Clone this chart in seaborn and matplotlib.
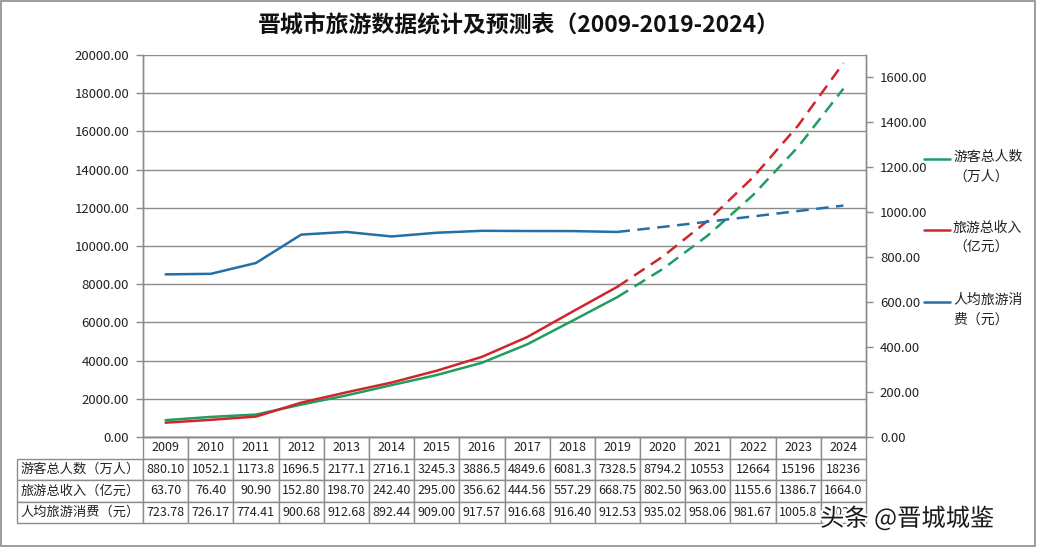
import matplotlib
matplotlib.use('Agg')
import matplotlib.pyplot as plt
import matplotlib.patheffects as pe
from matplotlib.lines import Line2D
from matplotlib.patches import Rectangle
from matplotlib.ticker import FormatStrFormatter, MultipleLocator
import seaborn as sns

# ---- data ----
years = [2009, 2010, 2011, 2012, 2013, 2014, 2015, 2016,
         2017, 2018, 2019, 2020, 2021, 2022, 2023, 2024]
visitors = [880.10, 1052.1, 1173.8, 1696.5, 2177.1, 2716.1, 3245.3, 3886.5,
            4849.6, 6081.3, 7328.5, 8794.2, 10553, 12664, 15196, 18236]
income = [63.70, 76.40, 90.90, 152.80, 198.70, 242.40, 295.00, 356.62,
          444.56, 557.29, 668.75, 802.50, 963.00, 1155.6, 1386.7, 1664.0]
per_capita = [723.78, 726.17, 774.41, 900.68, 912.68, 892.44, 909.00, 917.57,
              916.68, 916.40, 912.53, 935.02, 958.06, 981.67, 1005.8, 1030.0]

visitors_txt = ['880.10', '1052.1', '1173.8', '1696.5', '2177.1', '2716.1', '3245.3', '3886.5',
                '4849.6', '6081.3', '7328.5', '8794.2', '10553', '12664', '15196', '18236']
income_txt = ['63.70', '76.40', '90.90', '152.80', '198.70', '242.40', '295.00', '356.62',
              '444.56', '557.29', '668.75', '802.50', '963.00', '1155.6', '1386.7', '1664.0']
per_capita_txt = ['723.78', '726.17', '774.41', '900.68', '912.68', '892.44', '909.00', '917.57',
                  '916.68', '916.40', '912.53', '935.02', '958.06', '981.67', '1005.8', '1030']

labels = ['游客总人数（万人）', '旅游总收入（亿元）', '人均旅游消费（元）']
legend_labels = ['游客总人数\n（万人）', '旅游总收入\n（亿元）', '人均旅游消\n费（元）']
title = '晋城市旅游数据统计及预测表（2009-2019-2024）'
last_actual = 2019

GREEN, RED, BLUE = '#1f9d62', '#d0262b', '#236fa6'
GRID = '#8c8c8c'

sns.set_theme(style='white')
plt.rcParams['font.family'] = ['Noto Sans CJK SC', 'DejaVu Sans']

fig = plt.figure(figsize=(10.37, 5.47), dpi=100)
W, H = 1037, 547
x0, x1, y0, y1 = 143, 866, 55, 437
ax = fig.add_axes([x0 / W, 1 - y1 / H, (x1 - x0) / W, (y1 - y0) / H])
ax2 = ax.twinx()

n_act = years.index(last_actual) + 1
dash = (0, (5, 3))
for a, vals, col in [(ax, visitors, GREEN), (ax2, income, RED), (ax2, per_capita, BLUE)]:
    sns.lineplot(x=years[:n_act], y=vals[:n_act], ax=a, color=col, linewidth=1.8)
    sns.lineplot(x=years[n_act - 1:], y=vals[n_act - 1:], ax=a, color=col,
                 linewidth=1.8, linestyle=dash)

ax.set_xlim(years[0] - 0.5, years[-1] + 0.5)
ax.set_ylim(0, 20000)
ax2.set_ylim(0, 1700)
ax.yaxis.set_major_locator(MultipleLocator(2000))
ax2.yaxis.set_major_locator(MultipleLocator(200))
ax.yaxis.set_major_formatter(FormatStrFormatter('%.2f'))
ax2.yaxis.set_major_formatter(FormatStrFormatter('%.2f'))
ax.set_xticks([])
ax.grid(axis='y', color=GRID, linewidth=1)
ax.set_axisbelow(True)
for a in (ax, ax2):
    a.set_xlabel('')
    a.set_ylabel('')
    a.spines['top'].set_visible(False)
    for s in ('left', 'right', 'bottom'):
        a.spines[s].set_color(GRID)
        a.spines[s].set_linewidth(1)
    a.tick_params(axis='y', length=5, width=1, color=GRID, labelsize=9.5,
                  labelcolor='#222222', pad=5)
ax.tick_params(axis='y', left=True)
ax2.tick_params(axis='y', right=True)

# ---- data table below the plot ----
cell_text = [[labels[0]] + visitors_txt,
             [labels[1]] + income_txt,
             [labels[2]] + per_capita_txt]
col_labels = [''] + [str(y) for y in years]
lab_w = (x0 - 17) / (x1 - x0)
col_w = [lab_w] + [1 / len(years)] * len(years)
tbl = ax.table(cellText=cell_text, colLabels=col_labels, colWidths=col_w,
               cellLoc='center', bbox=[-lab_w, -(523 - y1) / (y1 - y0), 1 + lab_w, (523 - y1) / (y1 - y0)])
tbl.auto_set_font_size(False)
tbl.set_fontsize(9)
for (r, c), cell in tbl.get_celld().items():
    cell.set_edgecolor(GRID)
    cell.set_linewidth(1)
    cell.get_text().set_color('#222222')
    if r == 0 and c == 0:
        cell.visible_edges = ''
    if c == 0 and r > 0:
        cell.get_text().set_fontsize(9.5)

# ---- legend on the right ----
leg_y = [159, 230, 302]
for col, lab, yy in zip([GREEN, RED, BLUE], legend_labels, leg_y):
    fig.add_artist(Line2D([924 / W, 950 / W], [1 - yy / H] * 2, color=col, linewidth=1.8))
    fig.text(953 / W, 1 - (yy - 9) / H, lab, ha='left', va='top', fontsize=10,
             color='#222222', linespacing=1.55)

fig.text(0.5, 1 - 25 / H, title, ha='center', va='center', fontsize=16.5,
         fontweight='bold', color='#111111')

# watermark
fig.text(820 / W, 1 - 519 / H, '头条 @晋城城鉴', ha='left', va='center', fontsize=17.5,
         color='#1a1a1a', path_effects=[pe.withStroke(linewidth=3, foreground='white')])

fig.add_artist(Rectangle((0.001, 0.002), 0.997, 0.996, transform=fig.transFigure,
                         fill=False, edgecolor='#8c8c8c', linewidth=1.2))

fig.savefig('out.png', dpi=100)
